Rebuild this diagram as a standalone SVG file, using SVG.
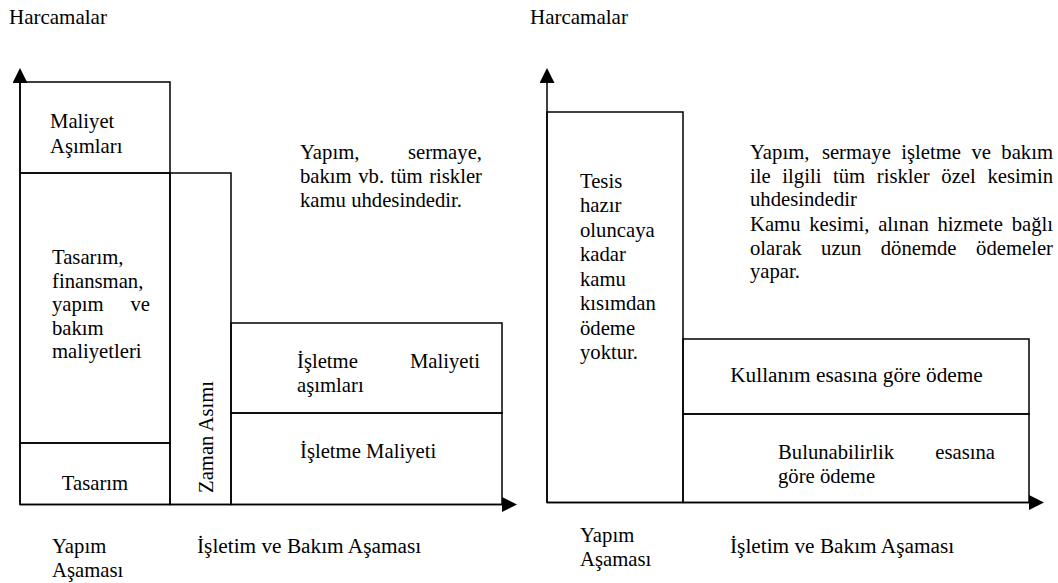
<svg xmlns="http://www.w3.org/2000/svg" width="1058" height="583" viewBox="0 0 1058 583">
  <style>
    text { font-family: "Liberation Serif", "Times New Roman", serif; font-size: 20.7px; fill: #000; }
    .title { font-size: 21px; }
    .phase { font-size: 21.3px; }
    .box { fill: none; stroke: #000; stroke-width: 1.5; }
    .axis { fill: none; stroke: #000; stroke-width: 1.5; marker-end: url(#arrow); }
    .mid { text-anchor: middle; }
    .end { text-anchor: end; }
  </style>
  <defs>
    <marker id="arrow" viewBox="0 0 10 10" refX="0" refY="5" markerWidth="15" markerHeight="15" markerUnits="userSpaceOnUse" orient="auto">
      <path d="M0,0 L10,5 L0,10 z" fill="#000"/>
    </marker>
  </defs>
  <rect width="1058" height="583" fill="#fff"/>

  <!-- axis titles -->
  <text class="title" x="9" y="24">Harcamalar</text>
  <text class="title" x="530" y="24">Harcamalar</text>

  <!-- axes -->
  <g id="connectors">
    <path class="axis" d="M20,504.5 L20,83"/>
    <path class="axis" d="M20,504.5 L502,504.5"/>
    <path class="axis" d="M547,502.5 L547,83"/>
    <path class="axis" d="M547,502.5 L1029,502.5"/>
  </g>

  <!-- left chart: conventional procurement -->
  <g id="maliyet-asimlari">
    <rect class="box" x="20" y="82" width="150" height="91"/>
    <text x="50" y="128">Maliyet</text>
    <text x="50" y="153">Aşımları</text>
  </g>
  <g id="tasarim-finansman">
    <rect class="box" x="20" y="173" width="150" height="270"/>
    <text x="52" y="264">Tasarım,</text>
    <text x="52" y="287.6">finansman,</text>
    <text x="52" y="311.2">yapım</text>
    <text class="end" x="150" y="311.2">ve</text>
    <text x="52" y="334.8">bakım</text>
    <text x="52" y="358.4">maliyetleri</text>
  </g>
  <g id="tasarim">
    <rect class="box" x="20" y="443" width="150" height="61.5"/>
    <text class="mid" x="95" y="490">Tasarım</text>
  </g>
  <g id="zaman-asimi">
    <rect class="box" x="170" y="173" width="61" height="331.5"/>
    <text transform="translate(213,493) rotate(-90)">Zaman Asımı</text>
  </g>
  <g id="isletme-asimlari">
    <rect class="box" x="231" y="323" width="271" height="90"/>
    <text x="297" y="368">İşletme</text>
    <text class="end" x="480" y="368">Maliyeti</text>
    <text x="297" y="392">aşımları</text>
  </g>
  <g id="isletme-maliyeti">
    <rect class="box" x="231" y="413" width="271" height="91.5"/>
    <text x="300" y="458">İşletme Maliyeti</text>
  </g>
  <g id="kamu-riskleri">
    <text x="300" y="159">Yapım,</text>
    <text class="end" x="482" y="159">sermaye,</text>
    <text x="300" y="183">bakım</text>
    <text x="358.2" y="183">vb.</text>
    <text x="390.5" y="183">tüm</text>
    <text class="end" x="482" y="183">riskler</text>
    <text x="300" y="207">kamu uhdesindedir.</text>
  </g>
  <g id="sol-asamalar">
    <text x="52" y="553">Yapım</text>
    <text x="52" y="577">Aşaması</text>
    <text class="phase" x="197" y="553">İşletim ve Bakım Aşaması</text>
  </g>

  <!-- right chart: availability-based PPP -->
  <g id="tesis">
    <rect class="box" x="547" y="112" width="136" height="390.5"/>
    <text x="580" y="187.5">Tesis</text>
    <text x="580" y="212">hazır</text>
    <text x="580" y="236.5">oluncaya</text>
    <text x="580" y="261">kadar</text>
    <text x="580" y="285.5">kamu</text>
    <text x="580" y="310">kısımdan</text>
    <text x="580" y="334.5">ödeme</text>
    <text x="580" y="359">yoktur.</text>
  </g>
  <g id="kullanim">
    <rect class="box" x="683" y="339" width="346" height="75"/>
    <text class="mid phase" x="856.5" y="382">Kullanım esasına göre ödeme</text>
  </g>
  <g id="bulunabilirlik">
    <rect class="box" x="683" y="414" width="346" height="88.5"/>
    <text x="778" y="459">Bulunabilirlik</text>
    <text class="end" x="995" y="459">esasına</text>
    <text x="778" y="483">göre ödeme</text>
  </g>
  <g id="ozel-riskler">
    <text x="750" y="159">Yapım,</text>
    <text x="821.9" y="159">sermaye</text>
    <text x="901.2" y="159">işletme</text>
    <text x="971.4" y="159">ve</text>
    <text class="end" x="1053" y="159">bakım</text>
    <text x="750" y="182.5">ile</text>
    <text x="782.3" y="182.5">ilgili</text>
    <text x="833" y="182.5">tüm</text>
    <text x="876.8" y="182.5">riskler</text>
    <text x="941.3" y="182.5">özel</text>
    <text class="end" x="1053" y="182.5">kesimin</text>
    <text x="750" y="206">uhdesindedir</text>
    <text x="750" y="231">Kamu</text>
    <text x="809.2" y="231">kesimi,</text>
    <text x="878.2" y="231">alınan</text>
    <text x="937.4" y="231">hizmete</text>
    <text class="end" x="1053" y="231">bağlı</text>
    <text x="750" y="254.5">olarak</text>
    <text x="821.1" y="254.5">uzun</text>
    <text x="880.7" y="254.5">dönemde</text>
    <text class="end" x="1053" y="254.5">ödemeler</text>
    <text x="750" y="278">yapar.</text>
  </g>
  <g id="sag-asamalar">
    <text x="580" y="542">Yapım</text>
    <text x="580" y="566">Aşaması</text>
    <text class="phase" x="730" y="553">İşletim ve Bakım Aşaması</text>
  </g>
</svg>
